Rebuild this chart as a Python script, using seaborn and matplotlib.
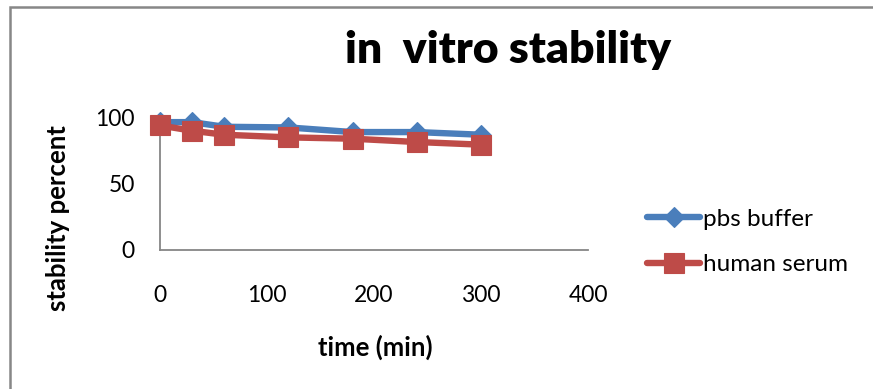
import matplotlib
matplotlib.use("Agg")
import matplotlib.pyplot as plt
from matplotlib.patches import Rectangle
import seaborn as sns
import pandas as pd

time_min = [0, 30, 60, 120, 180, 240, 300]
pbs_buffer = [96.5, 96.5, 93, 92.5, 89, 89, 87]
human_serum = [94, 90, 87, 85, 84, 81.5, 79.5]
x_ticks = [0, 100, 200, 300, 400]
y_ticks = [0, 50, 100]

sns.set_style("white")
plt.rcParams['font.family'] = ['Lato', 'DejaVu Sans']
for k in ["text.color", "axes.labelcolor", "xtick.color", "ytick.color"]:
    plt.rcParams[k] = "black"

W, H = 873, 389
fig = plt.figure(figsize=(W / 100, H / 100), dpi=100)
ax = fig.add_axes([160 / W, 1 - 250 / H, 428 / W, 132.5 / H])

df_pbs = pd.DataFrame({"time": time_min, "value": pbs_buffer})
df_ser = pd.DataFrame({"time": time_min, "value": human_serum})

blue = "#4A7EBB"
red = "#BE4B48"
sns.lineplot(data=df_pbs, x="time", y="value", ax=ax, color=blue, linewidth=4.6,
             marker="D", markersize=10.5, markeredgewidth=0.8, markeredgecolor=blue,
             label="pbs buffer", clip_on=False, zorder=3)
sns.lineplot(data=df_ser, x="time", y="value", ax=ax, color=red, linewidth=4.6,
             marker="s", markersize=14, markeredgewidth=0.8, markeredgecolor=red,
             label="human serum", clip_on=False, zorder=4)

ax.set_xlim(0, 400)
ax.set_ylim(0, 100)
ax.set_xticks(x_ticks)
ax.set_yticks(y_ticks)
ax.tick_params(axis="x", length=0, pad=25, labelsize=16.5, labelcolor="black")
ax.tick_params(axis="y", length=0, pad=18, labelsize=16.5, labelcolor="black")
for s in ["top", "right"]:
    ax.spines[s].set_visible(False)
for s in ["left", "bottom"]:
    ax.spines[s].set_color("#868686")
    ax.spines[s].set_linewidth(1.3)
    ax.spines[s].set_zorder(1)
ax.set_xlabel("")
ax.set_ylabel("")

h, l = ax.get_legend_handles_labels()
leg = ax.legend(h, l, loc="center left", bbox_to_anchor=(647 / W, 1 - 242 / H),
                bbox_transform=fig.transFigure, frameon=False, fontsize=17.5,
                handlelength=2.2, handletextpad=0.12, labelspacing=1.0,
                borderpad=0, borderaxespad=0, numpoints=1)
for t in leg.get_texts():
    t.set_color("black")

fig.text(508.5 / W, 1 - 63 / H, "in  vitro stability", ha="center", va="baseline",
         fontsize=32, fontweight="heavy", color="black")
fig.text(375 / W, 1 - 347 / H, "time (min)", ha="center", va="center",
         fontsize=18.5, fontweight="bold", color="black")
fig.text(58 / W, 1 - 218 / H, "stability percent", ha="center", va="center",
         rotation=90, fontsize=18.5, fontweight="bold", color="black")

fig.patches.append(Rectangle((9.5 / W, -0.2), 1.5, 1.2 - 6.5 / H,
                             transform=fig.transFigure, fill=False,
                             edgecolor="#878787", linewidth=1.8))

fig.savefig("out.png", dpi=100)
